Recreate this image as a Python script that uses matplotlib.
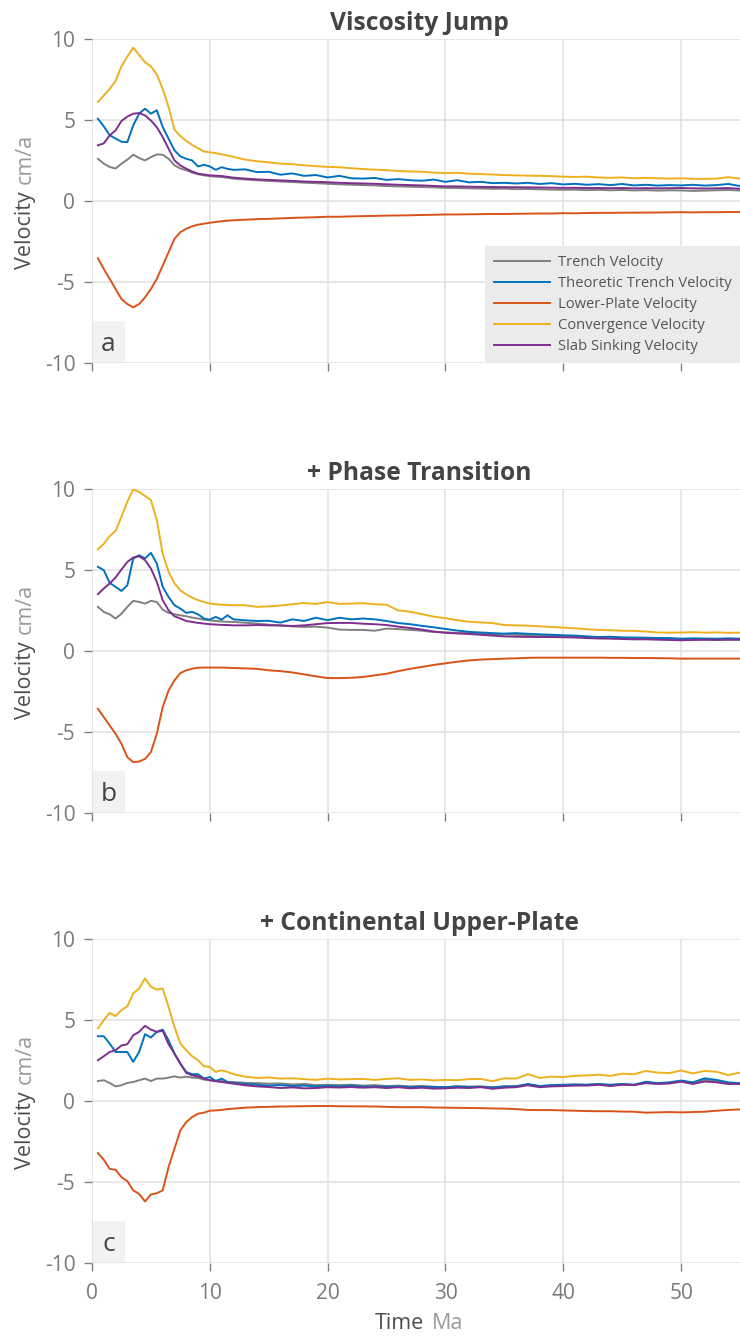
import numpy as np
import matplotlib
matplotlib.use('Agg')
import matplotlib.pyplot as plt
from matplotlib.patches import Rectangle

plt.rcParams['font.family'] = ['Open Sans', 'DejaVu Sans']
plt.rcParams['axes.unicode_minus'] = False

# time axis: 0.5 Ma steps up to 12 Ma, then 1 Ma steps
time_ma = np.concatenate([np.arange(0.5, 12.01, 0.5), np.arange(13, 55.01, 1.0)])

series_names = ['Trench Velocity', 'Theoretic Trench Velocity', 'Lower-Plate Velocity',
                'Convergence Velocity', 'Slab Sinking Velocity']
series_colors = ['#808080', '#0072BD', '#D95319', '#EDB120', '#7E2F8E']
panel_titles = ['Viscosity Jump', '+ Phase Transition', '+ Continental Upper-Plate']
panel_letters = ['a', 'b', 'c']

# --- panel a: viscosity jump ---
trench_a = [2.6, 2.3, 2.1, 2.0, 2.3, 2.55, 2.85, 2.65, 2.5, 2.7, 2.87, 2.85, 2.6, 2.2, 2.0, 1.9,
            1.75, 1.65, 1.58, 1.53, 1.5, 1.48, 1.43, 1.38,
            1.32, 1.28, 1.24, 1.2, 1.17, 1.13, 1.1, 1.06, 1.03, 1.0, 0.98, 0.96, 0.92, 0.9, 0.88,
            0.86, 0.84, 0.81, 0.8, 0.78, 0.77, 0.75, 0.76, 0.73, 0.74, 0.72, 0.7, 0.69, 0.7, 0.67,
            0.69, 0.66, 0.68, 0.65, 0.67, 0.64, 0.66, 0.65, 0.62, 0.64, 0.66, 0.68, 0.64]
theo_a = [5.07, 4.6, 4.05, 3.85, 3.65, 3.63, 4.66, 5.38, 5.69, 5.38, 5.59, 4.56, 3.84, 3.12, 2.75,
          2.6, 2.5, 2.13, 2.23, 2.13, 1.92, 2.08, 1.98, 1.92,
          1.95, 1.78, 1.8, 1.62, 1.7, 1.55, 1.6, 1.45, 1.55, 1.4, 1.38, 1.42, 1.3, 1.35, 1.28,
          1.25, 1.32, 1.18, 1.28, 1.15, 1.18, 1.1, 1.12, 1.08, 1.12, 1.05, 1.1, 1.02, 1.06, 1.0,
          1.04, 0.98, 1.05, 0.96, 1.0, 0.95, 0.98, 0.96, 1.0, 0.95, 0.98, 1.05, 0.92]
lower_a = [-3.53, -4.19, -4.8, -5.42, -6.04, -6.35, -6.55, -6.35, -5.94, -5.42, -4.8, -3.98, -3.16,
           -2.33, -1.92, -1.71, -1.56, -1.46, -1.4, -1.34, -1.29, -1.25, -1.21, -1.19,
           -1.15, -1.12, -1.1, -1.07, -1.04, -1.02, -1.0, -0.97, -0.97, -0.95, -0.93, -0.92, -0.9,
           -0.89, -0.88, -0.86, -0.85, -0.83, -0.83, -0.82, -0.81, -0.8, -0.8, -0.79, -0.78, -0.77,
           -0.77, -0.75, -0.76, -0.74, -0.73, -0.73, -0.72, -0.72, -0.71, -0.71, -0.7, -0.69, -0.7,
           -0.69, -0.69, -0.68, -0.68]
conv_a = [6.1, 6.5, 6.9, 7.4, 8.3, 8.9, 9.45, 9.0, 8.55, 8.3, 7.8, 6.9, 5.8, 4.4, 4.0, 3.7, 3.45,
          3.25, 3.05, 3.0, 2.95, 2.88, 2.8, 2.72,
          2.55, 2.45, 2.38, 2.3, 2.27, 2.2, 2.15, 2.1, 2.08, 2.02, 1.97, 1.93, 1.9, 1.85, 1.82,
          1.8, 1.75, 1.72, 1.74, 1.68, 1.66, 1.63, 1.6, 1.58, 1.56, 1.55, 1.53, 1.5, 1.48, 1.5,
          1.45, 1.43, 1.45, 1.4, 1.42, 1.4, 1.38, 1.4, 1.37, 1.36, 1.38, 1.47, 1.38]
slab_a = [3.43, 3.55, 4.04, 4.35, 4.93, 5.2, 5.38, 5.42, 5.27, 4.96, 4.55, 3.94, 3.22, 2.5, 2.19,
          1.99, 1.82, 1.68, 1.63, 1.58, 1.56, 1.54, 1.49, 1.44,
          1.38, 1.33, 1.3, 1.27, 1.24, 1.2, 1.18, 1.16, 1.12, 1.1, 1.08, 1.06, 1.03, 1.0, 0.98,
          0.96, 0.93, 0.9, 0.9, 0.88, 0.87, 0.86, 0.85, 0.85, 0.84, 0.83, 0.82, 0.81, 0.81, 0.8,
          0.8, 0.79, 0.8, 0.78, 0.79, 0.78, 0.79, 0.8, 0.78, 0.77, 0.78, 0.8, 0.75]

# --- panel b: + phase transition ---
trench_b = [2.72, 2.41, 2.26, 2.0, 2.3, 2.72, 3.09, 3.02, 2.92, 3.09, 3.02, 2.55, 2.35, 2.26, 2.2,
            2.14, 2.06, 2.0, 1.93, 1.89, 1.85, 1.82, 1.8, 1.79,
            1.74, 1.69, 1.62, 1.58, 1.52, 1.48, 1.5, 1.44, 1.32, 1.3, 1.3, 1.25, 1.38, 1.35, 1.3,
            1.25, 1.17, 1.15, 1.11, 1.1, 1.07, 1.04, 1.03, 1.0, 0.98, 0.96, 0.93, 0.9, 0.88, 0.85,
            0.82, 0.8, 0.78, 0.77, 0.75, 0.73, 0.72, 0.7, 0.71, 0.7, 0.71, 0.7, 0.7]
theo_b = [5.19, 4.98, 4.2, 3.95, 3.7, 4.05, 5.7, 5.9, 5.7, 6.05, 5.39, 3.95, 3.33, 2.82, 2.61, 2.35,
          2.41, 2.26, 2.0, 1.93, 2.1, 1.93, 2.2, 1.95,
          1.89, 1.85, 1.86, 1.75, 1.95, 1.85, 2.05, 1.9, 2.05, 1.95, 2.0, 1.95, 1.85, 1.72, 1.65,
          1.55, 1.46, 1.36, 1.26, 1.18, 1.14, 1.1, 1.07, 1.1, 1.06, 1.03, 1.0, 0.97, 0.95, 0.9,
          0.86, 0.88, 0.84, 0.83, 0.82, 0.8, 0.8, 0.76, 0.78, 0.77, 0.76, 0.78, 0.76]
lower_b = [-3.56, -4.07, -4.59, -5.1, -5.72, -6.54, -6.85, -6.81, -6.65, -6.23, -5.1, -3.46, -2.43,
           -1.81, -1.36, -1.19, -1.09, -1.03, -1.02, -1.02, -1.02, -1.02, -1.03, -1.05,
           -1.07, -1.1, -1.19, -1.24, -1.32, -1.44, -1.56, -1.67, -1.67, -1.65, -1.6, -1.5, -1.4,
           -1.24, -1.1, -0.98, -0.86, -0.76, -0.66, -0.58, -0.53, -0.5, -0.47, -0.45, -0.42, -0.41,
           -0.41, -0.41, -0.41, -0.41, -0.41, -0.42, -0.42, -0.43, -0.43, -0.44, -0.45, -0.47,
           -0.47, -0.47, -0.47, -0.47, -0.47]
conv_b = [6.26, 6.6, 7.08, 7.4, 8.27, 9.2, 9.96, 9.8, 9.55, 9.3, 8.07, 6.0, 4.88, 4.16, 3.74, 3.48,
          3.29, 3.13, 3.02, 2.92, 2.88, 2.85, 2.84, 2.82,
          2.82, 2.72, 2.75, 2.8, 2.88, 2.96, 2.9, 3.02, 2.9, 2.92, 2.95, 2.88, 2.85, 2.5, 2.42,
          2.27, 2.12, 2.02, 1.9, 1.8, 1.76, 1.72, 1.6, 1.58, 1.56, 1.52, 1.48, 1.44, 1.4, 1.34,
          1.3, 1.28, 1.25, 1.24, 1.2, 1.14, 1.13, 1.14, 1.16, 1.13, 1.15, 1.12, 1.13]
slab_b = [3.5, 3.85, 4.16, 4.53, 5.02, 5.49, 5.76, 5.84, 5.6, 5.08, 4.26, 3.13, 2.51, 2.14, 2.0,
          1.85, 1.79, 1.73, 1.69, 1.65, 1.63, 1.61, 1.6, 1.58,
          1.58, 1.6, 1.58, 1.57, 1.54, 1.58, 1.65, 1.72, 1.73, 1.73, 1.68, 1.65, 1.6, 1.5, 1.42,
          1.32, 1.2, 1.12, 1.08, 1.05, 1.0, 0.95, 0.9, 0.88, 0.87, 0.86, 0.86, 0.85, 0.83, 0.8,
          0.77, 0.76, 0.74, 0.72, 0.72, 0.7, 0.68, 0.66, 0.68, 0.7, 0.68, 0.7, 0.7]

# --- panel c: + continental upper-plate ---
trench_c = [1.23, 1.28, 1.11, 0.9, 0.97, 1.11, 1.17, 1.28, 1.38, 1.23, 1.38, 1.38, 1.44, 1.52, 1.44,
            1.5, 1.44, 1.42, 1.32, 1.28, 1.25, 1.22, 1.18, 1.17,
            1.12, 1.1, 1.07, 1.08, 1.02, 1.05, 0.98, 1.0, 0.98, 1.0, 0.95, 0.98, 0.92, 0.95, 0.9,
            0.93, 0.88, 0.85, 0.9, 0.88, 0.9, 0.85, 0.9, 0.92, 1.0, 0.92, 0.95, 0.98, 1.0, 1.0,
            1.03, 0.98, 1.02, 1.0, 1.12, 1.08, 1.1, 1.22, 1.12, 1.3, 1.22, 1.1, 1.08]
theo_c = [3.99, 3.99, 3.54, 3.02, 3.02, 3.02, 2.41, 3.02, 4.12, 3.91, 4.26, 4.4, 3.74, 2.92, 2.3,
          1.79, 1.65, 1.65, 1.38, 1.48, 1.23, 1.38, 1.17, 1.11,
          1.05, 1.0, 0.95, 0.98, 0.92, 0.95, 0.9, 0.93, 0.9, 0.95, 0.88, 0.9, 0.87, 0.9, 0.85,
          0.88, 0.86, 0.85, 0.9, 0.87, 0.88, 0.82, 0.9, 0.9, 1.05, 0.92, 0.98, 1.0, 1.02, 1.0,
          1.05, 1.0, 1.05, 1.0, 1.19, 1.1, 1.15, 1.26, 1.15, 1.4, 1.3, 1.15, 1.1]
lower_c = [-3.21, -3.62, -4.18, -4.24, -4.69, -4.94, -5.51, -5.72, -6.19, -5.76, -5.68, -5.51, -4.07,
           -2.94, -1.81, -1.3, -0.99, -0.78, -0.72, -0.6, -0.58, -0.55, -0.5, -0.47,
           -0.41, -0.38, -0.36, -0.34, -0.33, -0.32, -0.31, -0.31, -0.32, -0.33, -0.33, -0.34,
           -0.36, -0.38, -0.38, -0.38, -0.4, -0.41, -0.42, -0.43, -0.44, -0.46, -0.47, -0.5, -0.55,
           -0.56, -0.56, -0.58, -0.6, -0.62, -0.63, -0.63, -0.65, -0.66, -0.72, -0.7, -0.68, -0.7,
           -0.68, -0.66, -0.6, -0.55, -0.52]
conv_c = [4.47, 4.98, 5.43, 5.23, 5.6, 5.84, 6.63, 6.93, 7.55, 7.04, 6.87, 6.93, 5.8, 4.57, 3.54,
          3.13, 2.76, 2.51, 2.14, 2.1, 1.79, 1.89, 1.79, 1.65,
          1.5, 1.42, 1.45, 1.38, 1.4, 1.35, 1.3, 1.38, 1.33, 1.35, 1.36, 1.3, 1.36, 1.4, 1.3,
          1.33, 1.27, 1.3, 1.28, 1.35, 1.36, 1.22, 1.4, 1.38, 1.65, 1.42, 1.5, 1.48, 1.55, 1.58,
          1.62, 1.55, 1.68, 1.65, 1.85, 1.75, 1.72, 1.88, 1.7, 1.85, 1.8, 1.6, 1.75]
slab_c = [2.51, 2.76, 3.02, 3.13, 3.42, 3.5, 4.05, 4.26, 4.63, 4.4, 4.26, 4.32, 3.5, 2.92, 2.3,
          1.73, 1.58, 1.52, 1.38, 1.28, 1.22, 1.17, 1.12, 1.07,
          0.97, 0.9, 0.86, 0.8, 0.84, 0.78, 0.8, 0.85, 0.83, 0.86, 0.82, 0.85, 0.8, 0.85, 0.78,
          0.82, 0.76, 0.78, 0.82, 0.8, 0.85, 0.75, 0.82, 0.85, 0.97, 0.85, 0.9, 0.92, 0.95, 0.95,
          1.0, 0.92, 1.0, 0.98, 1.1, 1.05, 1.08, 1.19, 1.05, 1.2, 1.15, 1.05, 1.05]

panels = [
    [trench_a, theo_a, lower_a, conv_a, slab_a],
    [trench_b, theo_b, lower_b, conv_b, slab_b],
    [trench_c, theo_c, lower_c, conv_c, slab_c],
]

W, H = 740, 1338
fig = plt.figure(figsize=(W / 100, H / 100), dpi=100)

ax_left = 92 / W
ax_width = 648 / W
ax_height = 324.6 / H
ax_tops = [38.7, 488.7, 938.7]

dark = '#4d4d4d'
light = '#9a9a9a'
tick_col = '#7a7a7a'

for i, (data, title, letter) in enumerate(zip(panels, panel_titles, panel_letters)):
    bottom = 1 - (ax_tops[i] + 324.6) / H
    ax = fig.add_axes([ax_left, bottom, ax_width, ax_height])

    for vals, name, col in zip(data, series_names, series_colors):
        ax.plot(time_ma, vals, color=col, lw=1.4, label=name, zorder=3)

    ax.set_xlim(0, 55)
    ax.set_ylim(-10, 10)
    ax.set_xticks([0, 10, 20, 30, 40, 50])
    ax.set_yticks([-10, -5, 0, 5, 10])
    ax.grid(True, color='#e3e3e3', lw=1.2, zorder=0)
    for sp in ax.spines.values():
        sp.set_visible(False)
    ax.tick_params(axis='both', direction='out', length=6, width=1, color='#808080',
                   labelcolor=tick_col, labelsize=15)
    ax.tick_params(axis='y', pad=6)
    ax.tick_params(axis='x', pad=8)
    if i < 2:
        ax.tick_params(axis='x', labelbottom=False)

    ax.set_title(title, fontsize=17.7, fontweight='bold', color='#444444', pad=6.3, x=0.505)

    # y label in two tones
    ax.text(-0.103, 0.530, 'Velocity', transform=ax.transAxes, rotation=90,
            ha='center', va='top', fontsize=15.5, color=dark)
    ax.text(-0.103, 0.553, 'cm/a', transform=ax.transAxes, rotation=90,
            ha='center', va='bottom', fontsize=15.5, color=light)

    # panel letter box
    ax.add_patch(Rectangle((0, 0), 0.051, 0.13, transform=ax.transAxes,
                           facecolor='#f2f2f2', edgecolor='none', zorder=1))
    ax.text(0.0255, 0.058, letter, transform=ax.transAxes, ha='center', va='center',
            fontsize=19, color='#444444', zorder=2)

    if i == 0:
        leg = ax.legend(loc='lower right', borderaxespad=0, fontsize=10.6, frameon=True,
                        facecolor='#ebebeb', edgecolor='none', framealpha=1, fancybox=False,
                        handlelength=3.8, handletextpad=0.5, labelspacing=0.42,
                        borderpad=0.6)
        for txt in leg.get_texts():
            txt.set_color('#555555')

    if i == 2:
        ax.text(0.512, -0.184, 'Time', transform=ax.transAxes, ha='right', va='center',
                fontsize=15.5, color=dark)
        ax.text(0.524, -0.184, 'Ma', transform=ax.transAxes, ha='left', va='center',
                fontsize=15.5, color=light)

fig.savefig('out.png', dpi=100)
